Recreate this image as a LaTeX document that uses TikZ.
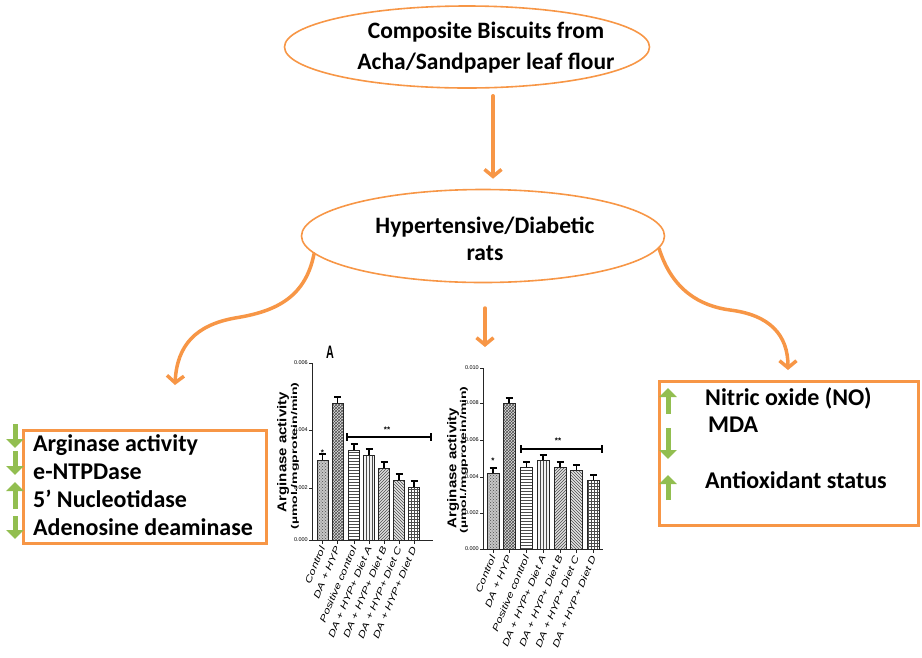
\documentclass[tikz,border=0pt]{standalone}
\usepackage{fontspec}
\setmainfont{Carlito}
\newfontfamily\chartfont{Liberation Sans}
\usetikzlibrary{shapes.geometric,arrows.meta,patterns}
\definecolor{org}{RGB}{247,150,70}
\definecolor{grn}{RGB}{146,190,80}
\tikzset{
  oval/.style={ellipse, draw=org, line width=1.6pt, inner sep=0pt},
  ovaltext/.style={align=center, inner sep=0pt, font=\bfseries\fontsize{23.5}{31}\selectfont},
  oarr/.style={draw=org, line width=3.5pt, line cap=round, -{Straight Barb[length=7pt,width=17pt]}},
  obox/.style={draw=org, line width=3pt, inner sep=0pt},
  garr/.style={draw=grn, line width=5pt, -{Triangle[length=9pt,width=17pt]}},
  item/.style={anchor=base west, inner sep=0pt, font=\bfseries\fontsize{24}{24}\selectfont},
  axisline/.style={draw=black!85, line width=0.9pt},
  barbox/.style={draw=black!85, line width=1pt},
  errbar/.style={draw=black, line width=1.3pt},
  ticklab/.style={anchor=east, inner sep=1pt, font=\chartfont\fontsize{5.5}{5.5}\selectfont},
  xlab/.style={anchor=east, rotate=67, inner sep=0pt},
  ylab/.style={rotate=90, inner sep=0pt},
  star/.style={inner sep=0pt, font=\chartfont\bfseries\fontsize{8}{8}\selectfont}
}
\newcommand{\xl}[1]{\scalebox{1}[0.75]{\chartfont\itshape\fontsize{12}{12}\selectfont #1}}
\newcommand{\ylA}{\scalebox{1}[0.85]{\chartfont\bfseries\fontsize{15}{15}\selectfont Arginase activity}}
\newcommand{\ylB}{\scalebox{1}[0.6]{\chartfont\bfseries\fontsize{14}{14}\selectfont (µmol./mgprotein/min)}}
\begin{document}
\begin{tikzpicture}[x=1pt,y=-1pt]
\useasboundingbox (0,0) rectangle (922,657);

% ---------- ovals ----------
\node[oval, minimum width=365pt, minimum height=82pt] (e1) at (467,47) {};
\node[ovaltext] (t1) at (486,48) {Composite Biscuits from\\Acha/Sandpaper leaf flour};
\node[oval, minimum width=363pt, minimum height=93pt] (e2) at (483,236) {};
\node[ovaltext, font=\bfseries\fontsize{23.5}{27}\selectfont] (t2) at (485,239) {Hypertensive/Diabetic\\rats};

% ---------- orange arrows ----------
\draw[oarr, shorten <=7pt, shorten >=10pt] (493,0 |- e1.south) -- (493,0 |- e2.north);
\coordinate (lt) at (175,385);
\coordinate (rt) at (788,370);
\coordinate (m1) at (485,308);
\coordinate (m2) at (485,347);
\draw[oarr] (e2.186) .. controls (305,300) and (272,312) .. (235,318)
            .. controls (196,325) and (177,345) .. (lt);
\draw[oarr] (e2.-4) .. controls (672,290) and (700,306) .. (730,310)
            .. controls (770,315) and (788,335) .. (rt);
\draw[oarr] (m1) -- (m2);

% ---------- left box ----------
\node[obox, minimum width=243pt, minimum height=113pt, anchor=north west] (lb) at (22,429) {};
\node[item] (l1) at (33,451) {Arginase activity};
\node[item] (l2) at (33,479) {e-NTPDase};
\node[item] (l3) at (33,507) {5’ Nucleotidase};
\node[item] (l4) at (33,535) {Adenosine deaminase};
\coordinate (g1a) at (15,424); \coordinate (g1b) at (15,448);
\coordinate (g2a) at (15,451); \coordinate (g2b) at (15,475);
\coordinate (g3a) at (15,509); \coordinate (g3b) at (15,482);
\coordinate (g4a) at (15,516); \coordinate (g4b) at (15,539);
\draw[garr] (g1a) -- (g1b);
\draw[garr] (g2a) -- (g2b);
\draw[garr] (g3a) -- (g3b);
\draw[garr] (g4a) -- (g4b);

% ---------- right box ----------
\node[obox, minimum width=259pt, minimum height=144pt, anchor=north west] (rb) at (658,380) {};
\node[item] (r1) at (705,405) {Nitric oxide (NO)};
\node[item] (r2) at (708,432) {MDA};
\node[item] (r3) at (705,488) {Antioxidant status};
\coordinate (h1a) at (668,414); \coordinate (h1b) at (668,388);
\coordinate (h2a) at (668,428); \coordinate (h2b) at (668,459);
\coordinate (h3a) at (668,500); \coordinate (h3b) at (668,475);
\draw[garr] (h1a) -- (h1b);
\draw[garr] (h2a) -- (h2b);
\draw[garr] (h3a) -- (h3b);

% ---------- chart A ----------
\node[inner sep=0pt] (cA) at (330,352) {\scalebox{0.6}[1]{\chartfont\bfseries\fontsize{18}{18}\selectfont A}};
\draw[axisline] (312,363) -- (312,540) -- (433,540);
\foreach \y/\t in {363/0.006,430/0.004,488/0.002,540/0.000}{
  \draw[axisline] (309,\y) -- (312,\y);
  \node[ticklab] at (309,\y) {\t};
}
\node[ylab] (yA1) at (283,452) {\ylA};
\node[ylab] (yA2) at (295,456) {\ylB};
\foreach \c/\top/\pat/\bg [count=\i] in
  {322.5/460/crosshatch dots/gray!45, 337.5/403/crosshatch/gray!25, 354/450/horizontal lines/white,
   369/455/vertical lines/gray!10, 384/468/north east lines/gray!25, 399/480/north west lines/gray!20, 414/487/grid/white}{
  \draw[barbox, preaction={fill=\bg}, pattern=\pat, pattern color=black!70] (\c-5.5,540) rectangle (\c+5.5,\top);
  \draw[errbar] (\c,\top) -- (\c,\top-6);
  \draw[errbar] (\c-3.5,\top-6) -- (\c+3.5,\top-6);
  \draw[axisline] (\c,540) -- (\c,544);
}
\node[xlab] at (322.5,547) {\xl{Control}};
\node[xlab] at (337.5,547) {\xl{DA + HYP}};
\node[xlab] at (354,547) {\xl{Positive control}};
\node[xlab] at (369,547) {\xl{DA + HYP+ Diet A}};
\node[xlab] at (384,547) {\xl{DA + HYP+ Diet B}};
\node[xlab] at (399,547) {\xl{DA + HYP+ Diet C}};
\node[xlab] at (414,547) {\xl{DA + HYP+ Diet D}};
\draw[errbar] (347,437) -- (431,437);
\draw[errbar] (347,433) -- (347,441);
\draw[errbar] (431,433) -- (431,441);
\node[star] at (387,430) {**};
\node[star] at (322.5,453) {*};

% ---------- chart B ----------
\draw[axisline] (483,368) -- (483,549) -- (603,549);
\foreach \y/\t in {368/0.010,403/0.008,440/0.006,477/0.004,513/0.002,549/0.000}{
  \draw[axisline] (480,\y) -- (483,\y);
  \node[ticklab] at (480,\y) {\t};
}
\node[ylab] (yB1) at (453,468) {\ylA};
\node[ylab] (yB2) at (464,460) {\ylB};
\foreach \c/\top/\pat/\bg [count=\i] in
  {493/473/crosshatch dots/gray!45, 509/403/crosshatch/gray!25, 526.5/467/horizontal lines/white,
   543/460/vertical lines/gray!10, 560/467/north east lines/gray!25, 576.5/470/north west lines/gray!20, 593.5/480/grid/white}{
  \draw[barbox, preaction={fill=\bg}, pattern=\pat, pattern color=black!70] (\c-6,549) rectangle (\c+6,\top);
  \draw[errbar] (\c,\top) -- (\c,\top-5);
  \draw[errbar] (\c-3.5,\top-5) -- (\c+3.5,\top-5);
  \draw[axisline] (\c,549) -- (\c,553);
}
\node[xlab] at (493,556) {\xl{Control}};
\node[xlab] at (509,556) {\xl{DA + HYP}};
\node[xlab] at (526.5,556) {\xl{Positive control}};
\node[xlab] at (543,556) {\xl{DA + HYP+ Diet A}};
\node[xlab] at (560,556) {\xl{DA + HYP+ Diet B}};
\node[xlab] at (576.5,556) {\xl{DA + HYP+ Diet C}};
\node[xlab] at (593.5,556) {\xl{DA + HYP+ Diet D}};
\draw[errbar] (521,449) -- (602,449);
\draw[errbar] (521,445) -- (521,453);
\draw[errbar] (602,445) -- (602,453);
\node[star] at (558,441) {**};
\node[star] at (493,461) {*};
\end{tikzpicture}
\end{document}
